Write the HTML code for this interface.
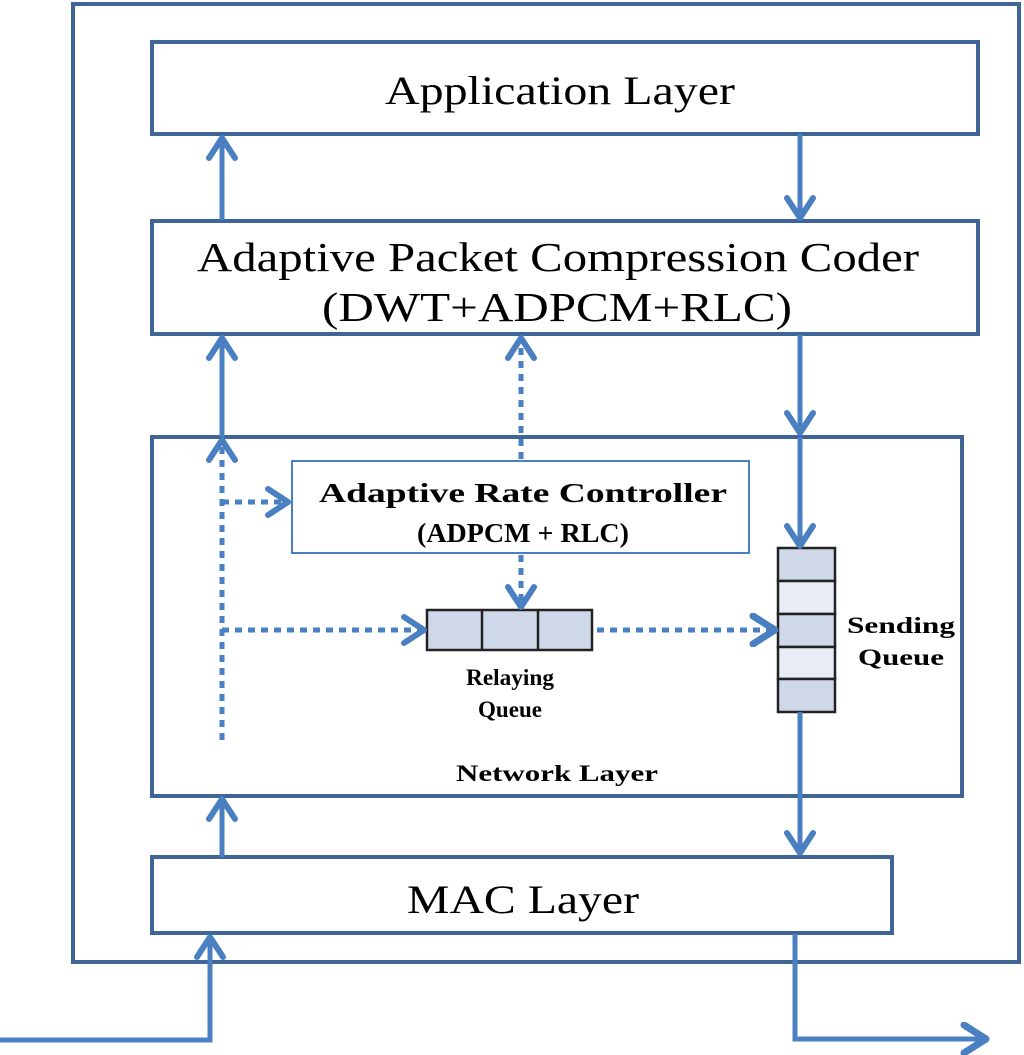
<!DOCTYPE html>
<html><head><meta charset="utf-8"><style>html,body{margin:0;padding:0;background:#fff}svg{display:block}</style></head>
<body>
<svg width="1024" height="1055" viewBox="0 0 1024 1055" xmlns="http://www.w3.org/2000/svg">
<defs>
<marker id="ah" viewBox="0 0 28 32" refX="24" refY="16" markerWidth="28" markerHeight="32" markerUnits="userSpaceOnUse" orient="auto">
<path d="M4,3 L24,16 L4,29" fill="none" stroke="#4a7fc1" stroke-width="6" stroke-linecap="round" stroke-linejoin="round"/>
</marker>
<marker id="ahb" viewBox="0 0 30 34" refX="26" refY="17" markerWidth="30" markerHeight="34" markerUnits="userSpaceOnUse" orient="auto">
<path d="M4,3 L26,17 L4,31" fill="none" stroke="#4a7fc1" stroke-width="7" stroke-linecap="round" stroke-linejoin="round"/>
</marker>
</defs>
<g fill="none" stroke="#3f6596" stroke-width="4">
<rect x="73" y="4" width="946" height="958"/>
<rect x="152" y="42" width="826" height="92"/>
<rect x="152" y="221" width="826" height="113"/>
<rect x="152" y="437" width="810" height="359"/>
<rect x="152" y="857" width="740" height="76"/>
</g>
<rect x="292" y="461" width="457" height="92" fill="none" stroke="#4a7fc1" stroke-width="2"/>
<g stroke="#222" stroke-width="2.5">
<rect x="427" y="610" width="165" height="40" fill="#cfd8e8"/>
<line x1="482" y1="610" x2="482" y2="650"/><line x1="538" y1="610" x2="538" y2="650"/>
<rect x="778" y="548" width="57" height="33" fill="#cfd8e8"/>
<rect x="778" y="581" width="57" height="33" fill="#e8edf5"/>
<rect x="778" y="614" width="57" height="33" fill="#cfd8e8"/>
<rect x="778" y="647" width="57" height="32" fill="#e8edf5"/>
<rect x="778" y="679" width="57" height="33" fill="#cfd8e8"/>
</g>
<g fill="none" stroke="#4a7fc1" stroke-width="5">
<line x1="222" y1="220" x2="222" y2="138" marker-end="url(#ah)"/>
<line x1="800" y1="134" x2="800" y2="218" marker-end="url(#ah)"/>
<line x1="222" y1="437" x2="222" y2="338" marker-end="url(#ah)"/>
<line x1="800" y1="335" x2="800" y2="433" marker-end="url(#ah)"/>
<line x1="800" y1="437" x2="800" y2="546" marker-end="url(#ah)"/>
<line x1="800" y1="712" x2="800" y2="853" marker-end="url(#ah)"/>
<line x1="222" y1="857" x2="222" y2="799" marker-end="url(#ah)"/>
<polyline points="0,1040 210,1040 210,937" marker-end="url(#ah)"/>
<polyline points="795,934 795,1039 986,1039" marker-end="url(#ahb)"/>
</g>
<g fill="none" stroke="#4a7fc1" stroke-width="5" stroke-dasharray="7,6">
<line x1="521" y1="459" x2="521" y2="338" marker-end="url(#ah)"/>
<line x1="521" y1="555" x2="521" y2="607" marker-end="url(#ah)"/>
<line x1="222" y1="740" x2="222" y2="440" marker-end="url(#ah)"/>
<line x1="222" y1="502" x2="288" y2="502" marker-end="url(#ah)"/>
<line x1="222" y1="630" x2="424" y2="630" marker-end="url(#ah)"/>
<line x1="597" y1="630" x2="775" y2="630" marker-end="url(#ahb)"/>
</g>
<g font-family="Liberation Serif, serif" fill="#000" text-anchor="middle">
<text x="560" y="104" font-size="40" textLength="350" lengthAdjust="spacingAndGlyphs">Application Layer</text>
<text x="558" y="271" font-size="41" textLength="722" lengthAdjust="spacingAndGlyphs">Adaptive Packet Compression Coder</text>
<text x="557" y="321" font-size="41" textLength="470" lengthAdjust="spacingAndGlyphs">(DWT+ADPCM+RLC)</text>
<text x="523" y="913" font-size="40" textLength="232" lengthAdjust="spacingAndGlyphs">MAC Layer</text>
<g font-weight="bold">
<text x="523" y="502" font-size="27" textLength="408" lengthAdjust="spacingAndGlyphs">Adaptive Rate Controller</text>
<text x="523" y="542" font-size="27" textLength="212" lengthAdjust="spacingAndGlyphs">(ADPCM + RLC)</text>
<text x="510" y="685" font-size="23" textLength="88" lengthAdjust="spacingAndGlyphs">Relaying</text>
<text x="510" y="717" font-size="23" textLength="64" lengthAdjust="spacingAndGlyphs">Queue</text>
<text x="901" y="633" font-size="23" textLength="108" lengthAdjust="spacingAndGlyphs">Sending</text>
<text x="901" y="665" font-size="23" textLength="86" lengthAdjust="spacingAndGlyphs">Queue</text>
<text x="557" y="781" font-size="23" textLength="202" lengthAdjust="spacingAndGlyphs">Network Layer</text>
</g>
</g>
</svg>
</body></html>
